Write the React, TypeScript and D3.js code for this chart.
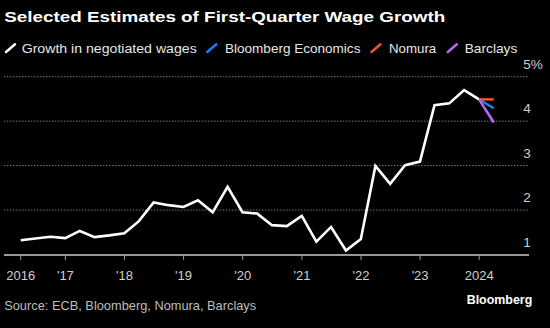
import React, { useEffect } from "react";
import * as d3 from "d3";

// Quarterly negotiated wage growth (%), 2016 Q1 .. 2023 Q4 (plotted at quarter end)
const quarters: string[] = [
  "2016-03-31","2016-06-30","2016-09-30","2016-12-31",
  "2017-03-31","2017-06-30","2017-09-30","2017-12-31",
  "2018-03-31","2018-06-30","2018-09-30","2018-12-31",
  "2019-03-31","2019-06-30","2019-09-30","2019-12-31",
  "2020-03-31","2020-06-30","2020-09-30","2020-12-31",
  "2021-03-31","2021-06-30","2021-09-30","2021-12-31",
  "2022-03-31","2022-06-30","2022-09-30","2022-12-31",
  "2023-03-31","2023-06-30","2023-09-30","2023-12-31",
];
const wageGrowth: number[] = [
  1.32, 1.36, 1.40, 1.37,
  1.53, 1.39, 1.43, 1.48,
  1.75, 2.17, 2.11, 2.07,
  2.22, 1.95, 2.52, 1.95,
  1.92, 1.66, 1.64, 1.87,
  1.29, 1.62, 1.09, 1.35,
  2.99, 2.59, 3.01, 3.09,
  4.36, 4.40, 4.70, 4.49,
];
// Q1 2024 estimates
const forecastDate = "2024-03-31";
const forecastNames: string[] = ["Bloomberg Economics", "Nomura", "Barclays"];
const forecastValues: number[] = [4.29, 4.49, 3.97];
const forecastColors: string[] = ["#1f7bff", "#f0552a", "#b56cf0"];

const yTicks: number[] = [1, 2, 3, 4, 5];
const xTickDates: string[] = ["2016-03-31","2017-01-01","2018-01-01","2019-01-01","2020-01-01","2021-01-01","2022-01-01","2023-01-01","2024-01-01"];
const xTickLabels: string[] = ["2016", "'17", "'18", "'19", "'20", "'21", "'22", "'23", "2024"];

const legendNames: string[] = ["Growth in negotiated wages", ...forecastNames];
const legendColors: string[] = ["#ffffff", ...forecastColors];

const W = 550, H = 328;
const FONT = "'Liberation Sans', Arial, sans-serif";

export default function App() {
  useEffect(() => {
    document.body.style.margin = "0";
    document.body.style.background = "#000";
  }, []);

  const parse = d3.utcParse("%Y-%m-%d");
  const dates = quarters.map((q) => parse(q) as Date);
  const fDate = parse(forecastDate) as Date;

  const x = d3.scaleUtc()
    .domain([parse("2016-03-31") as Date, parse("2024-01-01") as Date])
    .range([20.7, 479.2]);
  const y = d3.scaleLinear().domain([1, 5]).range([254.5, 76.7]);

  const axisLeft = 4, axisRight = 529;

  const line = d3.line<[Date, number]>()
    .x((d) => x(d[0]))
    .y((d) => y(d[1]));
  const mainData: [Date, number][] = dates.map((d, i) => [d, wageGrowth[i]]);
  const last = mainData[mainData.length - 1];

  const legendIconX = [6, 207.3, 371.5, 447.8];
  const legendTextX = [21.7, 225, 389, 464.7];
  const legendTextW = [175, 135.4, 47.2, 52.6];

  return (
    <svg width={W} height={H} style={{ display: "block", position: "absolute", left: 0, top: 0, background: "#000" }} fontFamily={FONT}>
      <rect x={0} y={0} width={W} height={H} fill="#000" />
      <text x={4.2} y={22} fill="#fff" fontSize={15} fontWeight="bold" textLength={441} lengthAdjust="spacingAndGlyphs">
        Selected Estimates of First-Quarter Wage Growth
      </text>

      {legendNames.map((name, i) => (
        <g key={name}>
          <line x1={legendIconX[i]} y1={52} x2={legendIconX[i] + 9} y2={44.3} stroke={legendColors[i]} strokeWidth={2.5} strokeLinecap="round" />
          <text x={legendTextX[i]} y={52.5} fill="#e6e6e6" fontSize={13} textLength={legendTextW[i]} lengthAdjust="spacingAndGlyphs">{name}</text>
        </g>
      ))}

      {yTicks.filter((t) => t > 1).map((t) => (
        <line key={"g" + t} x1={axisLeft} x2={axisRight} y1={y(t)} y2={y(t)} stroke="#777" strokeWidth={1} strokeDasharray="1.5 1.5" />
      ))}
      {yTicks.map((t) => (
        <text key={"yl" + t} x={523.3} y={y(t) - 8} fill="#d0d0d0" fontSize={13.5}>
          {t === 5 ? "5%" : String(t)}
        </text>
      ))}

      <line x1={axisLeft} x2={axisRight} y1={255} y2={255} stroke="#999" strokeWidth={2} />
      {xTickDates.map((d, i) => {
        const xx = x(parse(d) as Date);
        return (
          <g key={d}>
            <line x1={xx} x2={xx} y1={255} y2={260} stroke="#999" strokeWidth={1} />
            <text x={xx} y={279.5} fill="#d0d0d0" fontSize={13} textAnchor="middle">{xTickLabels[i]}</text>
          </g>
        );
      })}

      <path d={line(mainData) || ""} fill="none" stroke="#fff" strokeWidth={2.6} strokeLinejoin="miter" />
      {forecastValues.map((v, i) => (
        <path key={forecastNames[i]} d={line([last, [fDate, v]]) || ""} fill="none" stroke={forecastColors[i]} strokeWidth={2.5} />
      ))}

      <text x={4.2} y={309.5} fill="#bdbdbd" fontSize={13} textLength={252} lengthAdjust="spacingAndGlyphs">
        Source: ECB, Bloomberg, Nomura, Barclays
      </text>
      <text x={466.7} y={304} fill="#fff" fontSize={13.5} fontWeight="bold" textLength={65.6} lengthAdjust="spacingAndGlyphs">
        Bloomberg
      </text>
    </svg>
  );
}
